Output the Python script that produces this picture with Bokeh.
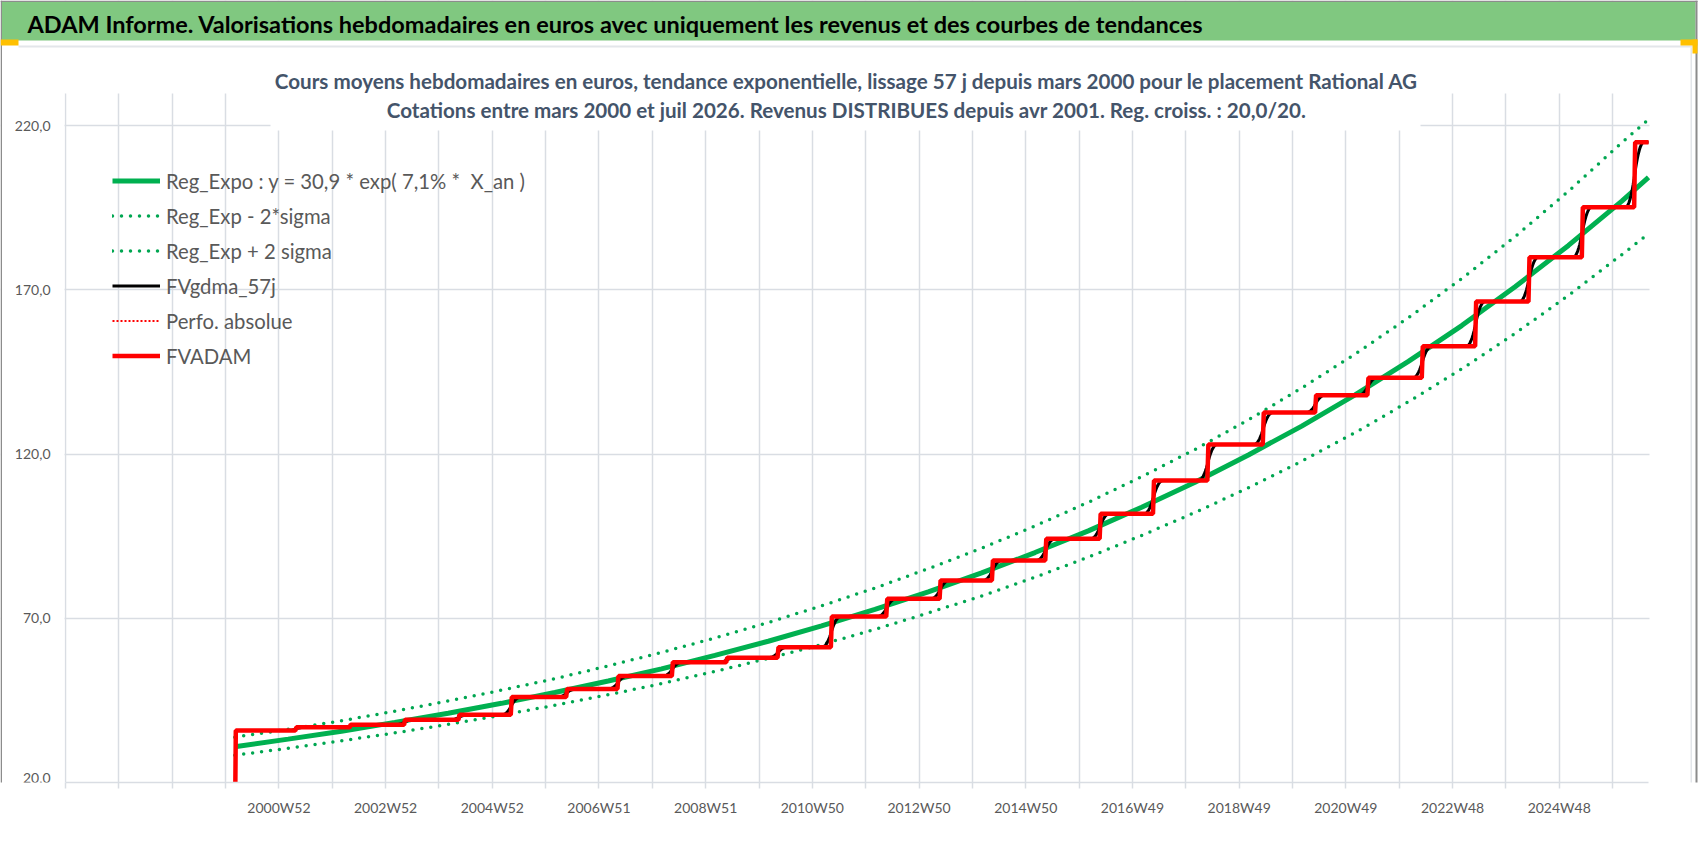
import numpy as np
import pandas as pd
from bokeh.plotting import figure
from bokeh.models import (Range1d, FixedTicker, BoxAnnotation, Label, Legend,
                          LegendItem, Grid)
from bokeh.embed import file_html
from bokeh.resources import INLINE

# ------------------------------------------------------------------ data
# x axis = weekly categories (index 0 = first category of the Excel axis)
first_week = 165          # mars 2000
last_week = 1543          # juil 2026
start_value = 0.0
# weeks at which a yearly income is distributed (avr/mai)
step_weeks = [225, 278, 331, 384, 435, 489, 539, 592, 645, 695, 747, 801, 853,
              904, 956, 1009, 1061, 1114, 1168, 1219, 1270, 1323, 1375, 1427,
              1479, 1530]
# FVADAM level before the first step and after each step
fvadam_levels = [35.8, 36.8, 37.6, 39.1, 40.6, 46.0, 48.5, 52.4, 56.6, 58.0,
                 61.2, 70.5, 75.9, 81.5, 87.6, 94.2, 101.8, 111.9, 122.9,
                 132.6, 137.9, 143.2, 152.8, 166.4, 179.9, 195.1, 214.9]
smoothing_weeks = 9

trend_weeks = [165, 217, 269, 321, 373, 425, 477, 529, 581, 633, 685, 737, 789,
               841, 893, 945, 997, 1049, 1101, 1153, 1205, 1257, 1309, 1361,
               1413, 1465, 1517, 1543]
reg_expo = [30.9, 33.2, 35.6, 38.3, 41.1, 44.1, 47.4, 50.9, 54.6, 58.7, 63.0,
            67.7, 72.7, 78.0, 83.8, 90.0, 96.6, 103.8, 111.4, 119.7, 128.5,
            138.0, 148.2, 159.1, 170.9, 183.5, 197.0, 204.2]
reg_minus = [28.3, 30.4, 32.7, 35.1, 37.7, 40.5, 43.5, 46.7, 50.1, 53.8, 57.8,
             62.0, 66.6, 71.6, 76.8, 82.5, 88.6, 95.2, 102.2, 109.7, 117.8,
             126.5, 135.9, 145.9, 156.7, 168.3, 180.7, 187.0]
reg_plus = [33.8, 36.2, 38.8, 41.7, 44.8, 48.1, 51.6, 55.5, 59.6, 64.0, 68.7,
            73.8, 79.2, 85.1, 91.3, 98.1, 105.3, 113.1, 121.4, 130.4, 140.1,
            150.4, 161.5, 173.4, 186.2, 200.0, 214.8, 221.8]

x_grid_weeks = list(range(0, 1509, 52))
x_label_weeks = [208, 312, 416, 520, 624, 728, 832, 936, 1040, 1144, 1248, 1352, 1456]
x_labels = ["2000W52", "2002W52", "2004W52", "2006W51", "2008W51", "2010W50",
            "2012W50", "2014W50", "2016W49", "2018W49", "2020W49", "2022W48",
            "2024W48"]
y_ticks = [20, 70, 120, 170, 220]
y_labels = ["20,0", "70,0", "120,0", "170,0", "220,0"]

banner_text = ("ADAM Informe. Valorisations hebdomadaires en euros avec uniquement "
               "les revenus et des courbes de tendances")
title_1 = ("Cours moyens hebdomadaires en euros, tendance exponentielle, lissage 57 j "
           "depuis mars 2000 pour le placement Rational AG")
title_2 = ("Cotations entre mars 2000 et juil 2026. Revenus DISTRIBUES depuis avr 2001. "
           "Reg. croiss. : 20,0/20.")
legend_labels = ["Reg_Expo : y = 30,9 * exp( 7,1% *  X_an )", "Reg_Exp - 2*sigma",
                 "Reg_Exp + 2 sigma", "FVgdma_57j", "Perfo. absolue", "FVADAM"]

# ------------------------------------------------------------------ derived series
weeks = np.arange(first_week + 1, last_week + 1)
lvl_idx = np.searchsorted(np.array(step_weeks), weeks, side="right")
fv_vals = np.array(fvadam_levels)[lvl_idx]
red_x = [first_week] + weeks.tolist()
red_y = [start_value] + fv_vals.tolist()
smooth = (pd.Series(fv_vals).rolling(smoothing_weeks, center=True, min_periods=1).mean()
          .rolling(smoothing_weeks, center=True, min_periods=1).mean())

# ------------------------------------------------------------------ layout / styling
FONT = "Lato"
GRID = "#D9DDE3"
TXT = "#595959"
TITLE = "#44546A"
GREEN = "#00B050"
DOT_GREEN = "#00A651"
YEL = "#FFC000"

PW, PH = 1698, 848
PL, PR, PT, PB = 65, 1648, 93, 782     # plot area (page px); frame = 0..PW x 0..PB
S = (PR - PL) / last_week              # px per week
PX_PER_UNIT = 3.285

p = figure(width=PW, height=PH,
           x_range=Range1d(-PL / S, last_week + (PW - PR) / S),
           y_range=Range1d(20, 20 + PB / PX_PER_UNIT),
           y_axis_location=None,
           output_backend="svg", toolbar_location=None,
           min_border_left=0, min_border_right=0, min_border_top=0,
           min_border_bottom=PH - PB,
           background_fill_color="white", border_fill_color="white",
           outline_line_color=None)
# drop any default horizontal grid
p.center = [c for c in p.center if not (isinstance(c, Grid) and c.dimension == 1)]

p.xaxis.ticker = FixedTicker(ticks=x_grid_weeks)
p.xaxis.bounds = (0, last_week)
ov = {w: "" for w in x_grid_weeks}
for w, lab in zip(x_label_weeks, x_labels):
    ov[w] = lab
p.xaxis.major_label_overrides = ov
p.xaxis.axis_line_color = GRID
p.xaxis.axis_line_width = 1.5
p.xaxis.major_tick_line_color = GRID
p.xaxis.major_tick_line_width = 1.5
p.xaxis.major_tick_out = 6
p.xaxis.major_tick_in = 0
p.xaxis.minor_tick_line_color = None
p.xaxis.major_label_standoff = 10
p.xaxis.major_label_text_font = FONT
p.xaxis.major_label_text_font_size = "14px"
p.xaxis.major_label_text_color = TXT
p.xgrid.grid_line_color = GRID
p.xgrid.grid_line_width = 1.5
p.add_layout(Grid(dimension=1, ticker=FixedTicker(ticks=y_ticks),
                  grid_line_color=GRID, grid_line_width=1.5))


def box(x0, y0, x1, y1, color, level="annotation"):
    p.add_layout(BoxAnnotation(left=x0, right=x1, top=PB - y0, bottom=PB - y1,
                               left_units="screen", right_units="screen",
                               top_units="screen", bottom_units="screen",
                               fill_color=color, fill_alpha=1, line_color=None,
                               level=level))


# white areas of the chart that hide the gridlines (drawn just above the grid)
box(0, 0, PW, PT, "white", "underlay")
box(0, PT, PL - 1, PB + 2, "white", "underlay")
box(PR + 1, PT, PW, PB + 2, "white", "underlay")
box(270, PT - 2, 1420, 130, "white", "underlay")

# ------------------------------------------------------------------ series
r1 = p.line(trend_weeks, reg_expo, line_color=GREEN, line_width=5)
r2 = p.line(trend_weeks, reg_minus, line_color=DOT_GREEN, line_width=3.5,
            line_dash="0 9", line_cap="round")
r3 = p.line(trend_weeks, reg_plus, line_color=DOT_GREEN, line_width=3.5,
            line_dash="0 9", line_cap="round")
r4 = p.line(weeks.tolist(), smooth.tolist(), line_color="black", line_width=3)
r5 = p.line(red_x, red_y, line_color="#FF0000", line_width=2, line_dash="2 2")
r6 = p.line(red_x, red_y, line_color="#FF0000", line_width=4.5)

# ------------------------------------------------------------------ decorations
box(1.5, 1.5, 1695, 40, "#80C880")            # green banner
box(0, 0, 1697, 1.5, "#8C8C8C")               # outer border
box(0, 0, 1.5, PB + 2, "#8C8C8C")
box(1695, 0, 1697, PB + 2, "#8C8C8C")
box(18, 45, 1692, 47, "#E3E6EA")              # chart area edges
box(1690, 47, 1691.5, PB + 2, "#E3E6EA")
box(0, 39, 18, 45, YEL)                       # selection handles
box(1680, 39, 1697, 45, YEL)
box(1692, 39, 1697, 53, YEL)


def label(text, x, y, size, color, align="left", bold=False):
    p.add_layout(Label(x=x, y=PB - y, x_units="screen", y_units="screen",
                       text=text, text_font=FONT, text_font_size=size,
                       text_font_style="bold" if bold else "normal",
                       text_color=color, text_align=align, text_baseline="middle"))


label(banner_text, 27, 23, "23.5px", "black", bold=True)
label(title_1, 846, 80, "20.6px", TITLE, align="center", bold=True)
label(title_2, 846, 109, "20.6px", TITLE, align="center", bold=True)

for v, txt in zip(y_ticks, y_labels):
    # the lowest label sits on the plot-area edge, keep it just above it
    p.add_layout(Label(x=50, y=v, x_units="screen", y_units="data", text=txt,
                       y_offset=5 if v == y_ticks[0] else 0,
                       text_font=FONT, text_font_size="14px", text_color=TXT,
                       text_align="right", text_baseline="middle"))

legend = Legend(items=[LegendItem(label=l, renderers=[r]) for l, r in
                       zip(legend_labels, [r1, r2, r3, r4, r5, r6])],
                location=(112, PB - 373), orientation="vertical",
                glyph_width=48, glyph_height=35, label_height=35, spacing=0,
                padding=0, margin=0, label_standoff=6,
                border_line_color=None, background_fill_alpha=0,
                label_text_font=FONT, label_text_font_size="20.3px",
                label_text_color=TXT)
p.add_layout(legend)

open("out.html", "w").write(file_html(p, INLINE))
